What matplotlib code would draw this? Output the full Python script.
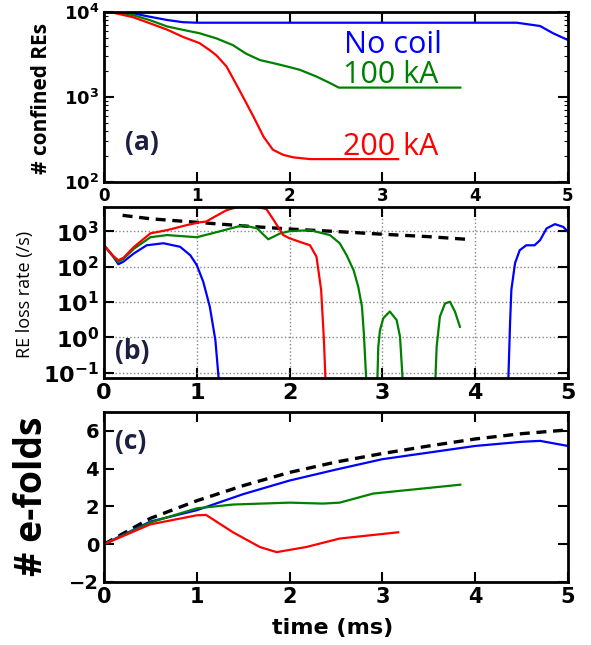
import matplotlib
matplotlib.use("Agg")
import matplotlib.pyplot as plt
from matplotlib.ticker import NullFormatter

# ---- panel (a): confined runaway electrons ----
a_blue_t = [0, 0.1, 0.31, 0.49, 0.68, 0.85, 1.0, 1.2, 4.45, 4.7, 4.84, 5.0]
a_blue_n = [10000, 10000, 9660, 8810, 8050, 7590, 7480, 7480, 7480, 6840, 5620, 4680]
a_green_t = [0, 0.1, 0.31, 0.49, 0.68, 0.85, 1.03, 1.21, 1.39, 1.53, 1.68, 1.82,
             1.97, 2.11, 2.29, 2.44, 2.53, 2.73, 3.84]
a_green_n = [10000, 9900, 9200, 8050, 6760, 6170, 5620, 4900, 4070, 3240, 2720, 2510,
             2290, 2090, 1740, 1450, 1290, 1290, 1290]
a_red_t = [0, 0.1, 0.31, 0.49, 0.68, 0.85, 1.03, 1.14, 1.21, 1.32, 1.46, 1.61, 1.72,
           1.82, 1.93, 2.04, 2.22, 3.17]
a_red_n = [10000, 9800, 8700, 7400, 6200, 5100, 4300, 3550, 3100, 2290, 1200, 590, 340,
           240, 209, 195, 186, 186]

# ---- panel (b): RE loss rate ----
b_blue_t = [0, 0.1, 0.154, 0.21, 0.32, 0.46, 0.64, 0.82, 0.93, 1.0, 1.07, 1.14, 1.2,
            1.235, 1.25]
b_blue_r = [400, 190, 117, 138, 234, 400, 457, 363, 209, 110, 37, 7.4, 0.85, 0.072, 0.04]
b_blue2_t = [4.35, 4.358, 4.376, 4.39, 4.43, 4.48, 4.55, 4.64, 4.70, 4.77, 4.86, 4.95, 5.0]
b_blue2_r = [0.04, 0.072, 2.5, 22, 126, 290, 400, 400, 560, 1200, 1580, 1320, 955]
b_red_t = [0, 0.1, 0.154, 0.21, 0.32, 0.5, 0.68, 0.89, 1.03, 1.1, 1.18, 1.32, 1.45, 1.6,
           1.75, 1.83, 1.93, 2.0, 2.11, 2.22, 2.29, 2.34, 2.37, 2.39]
b_red_r = [400, 200, 151, 178, 355, 870, 1070, 1480, 1780, 1860, 2450, 3900, 4900, 5200,
           4200, 2040, 780, 630, 500, 400, 190, 22, 0.85, 0.04]
b_green_t = [0, 0.1, 0.154, 0.21, 0.32, 0.5, 0.68, 1.0, 1.21, 1.5, 1.65, 1.77, 1.9, 2.0,
             2.22, 2.435, 2.54, 2.615, 2.69, 2.74, 2.78, 2.80, 2.83]
b_green_r = [400, 190, 135, 166, 316, 676, 776, 676, 933, 1480, 1200, 590, 870, 1000,
             1070, 776, 457, 209, 79, 27, 7.4, 1.35, 0.04]
b_green2_t = [2.945, 2.956, 2.974, 3.01, 3.08, 3.154, 3.19, 3.214, 3.22]
b_green2_r = [0.05, 0.55, 1.6, 3.5, 5.4, 3.1, 1.05, 0.1, 0.05]
b_green3_t = [3.57, 3.574, 3.585, 3.62, 3.675, 3.728, 3.782, 3.836]
b_green3_r = [0.05, 0.1, 0.55, 3.9, 9.1, 10.2, 5.4, 2.0]
b_dash_t = [0.2, 0.5, 1.0, 1.5, 2.0, 2.5, 2.97, 3.5, 3.91]
b_dash_r = [2800, 2240, 1780, 1410, 1150, 980, 830, 700, 590]

# ---- panel (c): e-folds ----
c_dash_t = [0, 0.5, 1.0, 1.5, 2.0, 2.5, 3.0, 3.5, 4.0, 4.5, 5.0]
c_dash_y = [0, 1.37, 2.3, 3.1, 3.8, 4.35, 4.8, 5.2, 5.57, 5.85, 6.05]
c_blue_t = [0, 0.5, 1.0, 1.5, 2.0, 2.5, 3.0, 3.5, 4.0, 4.5, 4.7, 5.0]
c_blue_y = [0, 1.2, 1.8, 2.65, 3.37, 3.95, 4.5, 4.85, 5.2, 5.42, 5.47, 5.2]
c_green_t = [0, 0.5, 1.0, 1.39, 2.0, 2.36, 2.54, 2.9, 3.84]
c_green_y = [0, 1.15, 1.9, 2.1, 2.2, 2.15, 2.2, 2.68, 3.15]
c_red_t = [0, 0.5, 1.0, 1.1, 1.39, 1.68, 1.86, 2.0, 2.18, 2.54, 3.17]
c_red_y = [0, 1.05, 1.53, 1.55, 0.63, -0.15, -0.42, -0.3, -0.15, 0.3, 0.63]

xticks = [0, 1, 2, 3, 4, 5]
BLUE, GREEN, RED = "#0000ff", "#008000", "#ff0000"
LW = 1.6
LABEL_COLOR = "#1c2040"


def style_axes(ax, xsize, ysize):
    for s in ax.spines.values():
        s.set_linewidth(2)
    ax.set_xlim(0, 5)
    ax.set_xticks(xticks)
    ax.set_xticklabels([str(x) for x in xticks], fontweight="bold", fontsize=xsize)
    ax.tick_params(which="both", direction="in", top=True, right=True)
    ax.tick_params(which="major", length=7, width=1.5, labelsize=ysize)
    ax.tick_params(which="minor", length=3, width=0.8)
    ax.tick_params(axis="x", labelsize=xsize)


fig = plt.figure(figsize=(5.91, 6.45), dpi=100)

# panel (a)
ax1 = fig.add_axes([0.176, 0.7178, 0.785, 0.2636])
ax1.plot(a_blue_t, a_blue_n, color=BLUE, lw=LW)
ax1.plot(a_green_t, a_green_n, color=GREEN, lw=LW)
ax1.plot(a_red_t, a_red_n, color=RED, lw=LW)
ax1.set_yscale("log")
ax1.set_ylim(100, 10000)
ax1.set_yticks([1e2, 1e3, 1e4])
ax1.set_yticklabels([r"$\mathbf{10^{2}}$", r"$\mathbf{10^{3}}$", r"$\mathbf{10^{4}}$"])
ax1.yaxis.set_minor_formatter(NullFormatter())
style_axes(ax1, 12, 13)
ax1.text(0.517, 0.759, "No coil", transform=ax1.transAxes, color=BLUE,
         fontsize=22, family="Open Sans", va="baseline")
ax1.text(0.515, 0.582, "100 kA", transform=ax1.transAxes, color=GREEN,
         fontsize=22, family="Open Sans", va="baseline")
ax1.text(0.515, 0.159, "200 kA", transform=ax1.transAxes, color=RED,
         fontsize=22, family="Open Sans", va="baseline")
ax1.text(0.045, 0.235, "(a)", transform=ax1.transAxes, color=LABEL_COLOR,
         fontsize=19, family="Open Sans", fontweight="bold", va="center")

# panel (b)
ax2 = fig.add_axes([0.176, 0.414, 0.785, 0.265])
ax2.plot(b_dash_t, b_dash_r, color="black", lw=2.4, ls=(0, (3, 2)))
ax2.plot(b_blue_t, b_blue_r, color=BLUE, lw=LW)
ax2.plot(b_blue2_t, b_blue2_r, color=BLUE, lw=LW)
ax2.plot(b_green_t, b_green_r, color=GREEN, lw=LW)
ax2.plot(b_green2_t, b_green2_r, color=GREEN, lw=LW)
ax2.plot(b_green3_t, b_green3_r, color=GREEN, lw=LW)
ax2.plot(b_red_t, b_red_r, color=RED, lw=LW)
ax2.set_yscale("log")
ax2.set_ylim(0.072, 4800)
ax2.set_yticks([1e-1, 1e0, 1e1, 1e2, 1e3])
ax2.set_yticklabels([r"$\mathbf{10^{-1}}$", r"$\mathbf{10^{0}}$", r"$\mathbf{10^{1}}$",
                     r"$\mathbf{10^{2}}$", r"$\mathbf{10^{3}}$"])
ax2.yaxis.set_minor_formatter(NullFormatter())
ax2.grid(True, which="major", ls=":", color="#888888", lw=1)
style_axes(ax2, 16, 16)
ax2.text(0.024, 0.152, "(b)", transform=ax2.transAxes, color=LABEL_COLOR,
         fontsize=19, family="Open Sans", fontweight="bold", va="center")

# panel (c)
ax3 = fig.add_axes([0.176, 0.0977, 0.785, 0.2636])
ax3.plot(c_dash_t, c_dash_y, color="black", lw=2.4, ls=(0, (3, 2)))
ax3.plot(c_blue_t, c_blue_y, color=BLUE, lw=LW)
ax3.plot(c_green_t, c_green_y, color=GREEN, lw=LW)
ax3.plot(c_red_t, c_red_y, color=RED, lw=LW)
ax3.set_ylim(-2, 7)
ax3.set_yticks([-2, 0, 2, 4, 6])
ax3.set_yticklabels(["\u22122", "0", "2", "4", "6"], fontweight="bold")
style_axes(ax3, 15, 14)
ax3.text(0.024, 0.824, "(c)", transform=ax3.transAxes, color=LABEL_COLOR,
         fontsize=19, family="Open Sans", fontweight="bold", va="center")

# axis labels
fig.text(0.071, 0.847, "# confined REs", rotation=90, ha="center", va="center",
         fontsize=15, family="Open Sans", fontweight="bold")
fig.text(0.042, 0.543, "RE loss rate (/s)", rotation=90, ha="center", va="center",
         fontsize=13, family="Open Sans")
fig.text(0.054, 0.230, "# e-folds", rotation=90, ha="center", va="center",
         fontsize=27, family="Open Sans", fontweight="bold")
fig.text(0.563, 0.026, "time (ms)", ha="center", va="center",
         fontsize=16, fontweight="bold")

fig.savefig("out.png", dpi=100)
